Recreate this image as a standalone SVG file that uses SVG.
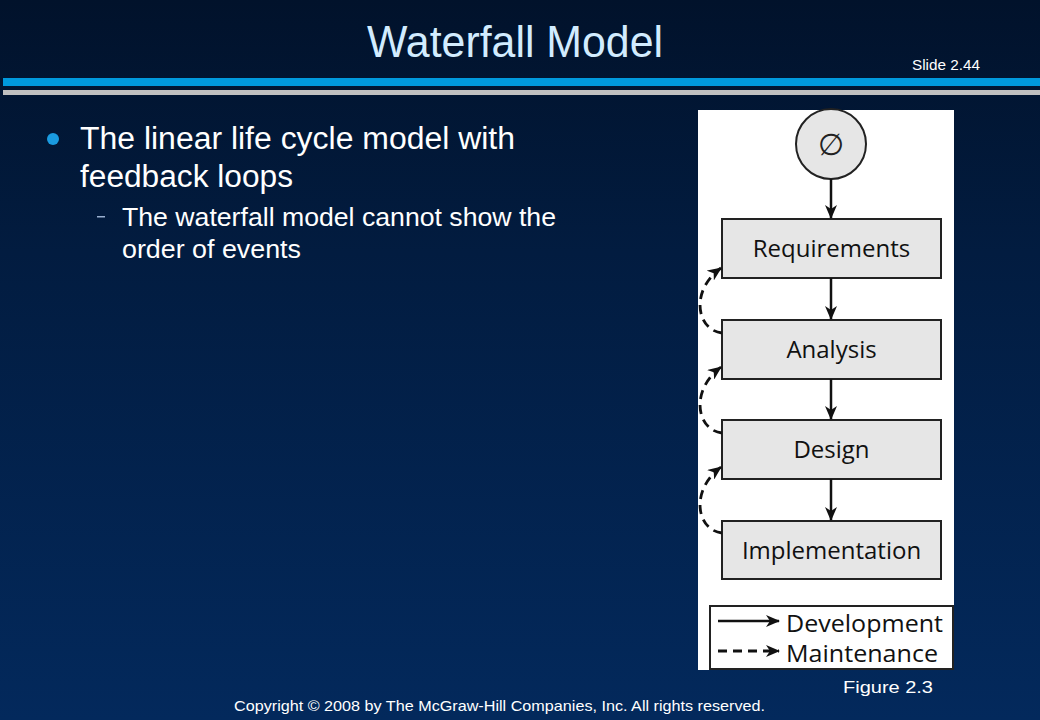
<svg xmlns="http://www.w3.org/2000/svg" width="1040" height="720" viewBox="0 0 1040 720">
<defs>
<linearGradient id="bg" x1="0" y1="0" x2="0" y2="1">
<stop offset="0" stop-color="#01122b"/>
<stop offset="0.35" stop-color="#021c40"/>
<stop offset="1" stop-color="#03295c"/>
</linearGradient>
<marker id="ah" viewBox="0 0 14 12" refX="13" refY="6" markerWidth="14" markerHeight="12" markerUnits="userSpaceOnUse" orient="auto">
<path d="M0,0 L14,6 L0,12 L4,6 Z" fill="#111"/>
</marker>
<marker id="ahd" viewBox="0 0 14 12" refX="13" refY="6" markerWidth="14" markerHeight="12" markerUnits="userSpaceOnUse" orient="auto">
<path d="M0,0 L14,6 L0,12 L4,6 Z" fill="#111"/>
</marker>
</defs>
<style>
.slide{font-family:"Liberation Sans",Arial,sans-serif;}
.box{fill:#e6e6e6;stroke:#222;stroke-width:2;}
.lbl{font-family:"Open Sans","Noto Sans",sans-serif;font-size:24px;fill:#111;text-anchor:middle;}
.dev{stroke:#111;stroke-width:2.5;fill:none;marker-end:url(#ah);}
.mnt{stroke:#111;stroke-width:2.8;fill:none;stroke-dasharray:9 6;marker-end:url(#ahd);}
</style>
<rect x="0" y="0" width="1040" height="720" fill="url(#bg)"/>
<text class="slide" x="515" y="57" font-size="44" fill="#d2ecff" text-anchor="middle" textLength="296" lengthAdjust="spacingAndGlyphs">Waterfall Model</text>
<text class="slide" x="912" y="70" font-size="14" fill="#ffffff" textLength="68" lengthAdjust="spacingAndGlyphs">Slide 2.44</text>
<rect x="3" y="78" width="1037" height="8" fill="#0099dd"/>
<rect x="3" y="90" width="1037" height="5" fill="#c0c0c0"/>
<circle cx="53" cy="139" r="6" fill="#1a9be0"/>
<text class="slide" x="80" y="149" font-size="31" fill="#ffffff" textLength="435" lengthAdjust="spacingAndGlyphs">The linear life cycle model with</text>
<text class="slide" x="80" y="187" font-size="31" fill="#ffffff" textLength="213" lengthAdjust="spacingAndGlyphs">feedback loops</text>
<rect x="97" y="216" width="8" height="1.5" fill="#9ab0d0"/>
<text class="slide" x="122" y="226" font-size="26" fill="#ffffff" textLength="434" lengthAdjust="spacingAndGlyphs">The waterfall model cannot show the</text>
<text class="slide" x="122" y="258" font-size="26" fill="#ffffff" textLength="179" lengthAdjust="spacingAndGlyphs">order of events</text>
<rect x="698" y="110" width="256" height="560" fill="#ffffff"/>
<g id="start"><circle cx="831" cy="144" r="35" fill="#e6e6e6" stroke="#222" stroke-width="2"/>
<text x="831" y="155" font-family="DejaVu Sans,sans-serif" font-size="30" font-weight="200" fill="#222" text-anchor="middle">∅</text></g>
<g id="requirements"><rect class="box" x="722" y="219" width="219" height="59"/><text class="lbl" x="831.5" y="257">Requirements</text></g>
<g id="analysis"><rect class="box" x="722" y="320" width="219" height="59"/><text class="lbl" x="831.5" y="358">Analysis</text></g>
<g id="design"><rect class="box" x="722" y="420" width="219" height="59"/><text class="lbl" x="831.5" y="458">Design</text></g>
<g id="implementation"><rect class="box" x="722" y="521" width="219" height="58"/><text class="lbl" x="831.5" y="559">Implementation</text></g>
<g id="connectors">
<line class="dev" x1="831" y1="179" x2="831" y2="218"/>
<line class="dev" x1="831" y1="278" x2="831" y2="319"/>
<line class="dev" x1="831" y1="379" x2="831" y2="419"/>
<line class="dev" x1="831" y1="479" x2="831" y2="520"/>
<path class="mnt" d="M722,333 C696,330 690,290 721,268"/>
<path class="mnt" d="M722,433 C696,430 690,390 721,367"/>
<path class="mnt" d="M722,533 C696,530 690,490 721,467"/>
</g>
<g id="legend">
<rect x="710" y="606" width="243" height="63" fill="#ffffff" stroke="#222" stroke-width="2"/>
<line class="dev" x1="718" y1="621" x2="779" y2="621"/>
<path class="mnt" d="M718,651 L779,651"/>
<text x="786" y="632" font-family="Open Sans,Noto Sans,sans-serif" font-size="24" fill="#111" textLength="157" lengthAdjust="spacingAndGlyphs">Development</text>
<text x="786" y="662" font-family="Open Sans,Noto Sans,sans-serif" font-size="24" fill="#111" textLength="152" lengthAdjust="spacingAndGlyphs">Maintenance</text>
</g>
<text class="slide" x="843" y="693" font-size="16" fill="#ffffff" textLength="90" lengthAdjust="spacingAndGlyphs">Figure 2.3</text>
<text class="slide" x="234" y="711" font-size="15" fill="#ffffff" textLength="531" lengthAdjust="spacingAndGlyphs">Copyright © 2008 by The McGraw-Hill Companies, Inc.  All rights reserved.</text>
</svg>
